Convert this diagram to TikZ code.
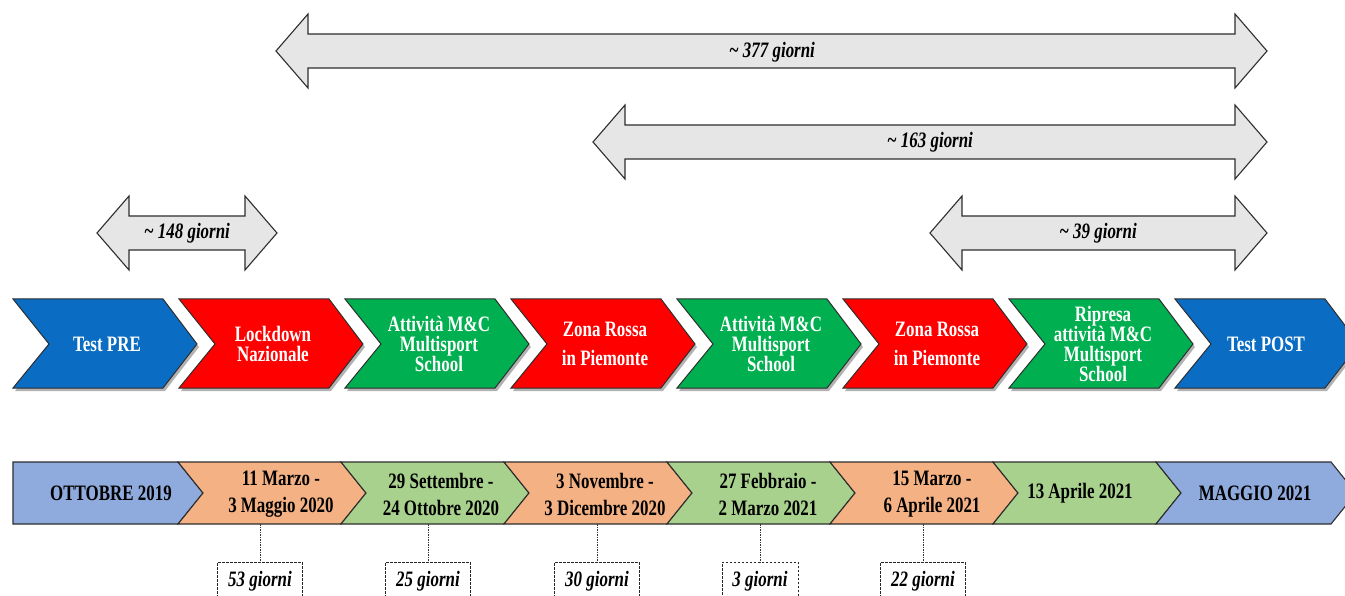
\documentclass[tikz,border=0pt]{standalone}
\usepackage{xcolor}
\usepackage{fontspec}
\setmainfont{Liberation Serif}[FakeStretch=0.77]
\usepackage{tikz}
\usetikzlibrary{positioning, calc}
\definecolor{cblue}{HTML}{0A6CC2}
\definecolor{cred}{HTML}{FF0000}
\definecolor{cgreen}{HTML}{00AF4F}
\definecolor{lblue}{HTML}{8FAADC}
\definecolor{lorange}{HTML}{F4B183}
\definecolor{lgreen}{HTML}{A9D18E}
\definecolor{agray}{HTML}{E7E6E6}
\definecolor{edge}{HTML}{2E2E2E}

\begin{document}
\begin{tikzpicture}[x=1pt, y=-1pt,
	chev/.style={draw=edge, line width=1pt, line join=miter},
	shad/.style={fill=black!30, draw=none},
	seg/.style={draw=edge, line width=1.1pt},
	darr/.style={draw=edge, fill=agray, line width=1.1pt},
	wlab/.style={text=white, font=\fontsize{22}{20}\selectfont\bfseries, align=center},
	blab/.style={text=black, font=\fontsize{22}{27}\selectfont\bfseries, align=center},
	glab/.style={font=\fontsize{22}{24}\selectfont\bfseries\itshape},
	dbox/.style={draw=black!85, dash pattern=on 2.5pt off 1.5pt, line width=0.9pt, inner xsep=10.5pt, inner ysep=9pt, anchor=north, font=\fontsize{22}{24}\selectfont\bfseries\itshape},
	dline/.style={draw=black!80, dash pattern=on 1.5pt off 1pt, line width=0.7pt}]
				\useasboundingbox (0,0) rectangle (1345,596);
				\clip (0,0) rectangle (1345,596);
				\fill[white] (0,0) rectangle (1345,596);
				
				\draw[darr] (276,51) -- ++(32,-37) -- ++(0,20) -- (1235,34) -- ++(0,-20) -- (1267,51) -- ++(-32,37) -- ++(0,-20) -- (308,68) -- ++(0,20) -- cycle;
				\node[glab] (d377) at (772,52) {\textasciitilde\ 377 giorni};
				
				\draw[darr] (593,142) -- ++(32,-37) -- ++(0,20) -- (1235,125) -- ++(0,-20) -- (1267,142) -- ++(-32,37) -- ++(0,-20) -- (625,159) -- ++(0,20) -- cycle;
				\node[glab] (d163) at (930,142) {\textasciitilde\ 163 giorni};
				
				\draw[darr] (97,233) -- ++(32,-37) -- ++(0,20) -- (245,216) -- ++(0,-20) -- (277,233) -- ++(-32,37) -- ++(0,-20) -- (129,250) -- ++(0,20) -- cycle;
				\node[glab] (d148) at (187,233) {\textasciitilde\ 148 giorni};
				
				\draw[darr] (930,233) -- ++(32,-37) -- ++(0,20) -- (1235,216) -- ++(0,-20) -- (1267,233) -- ++(-32,37) -- ++(0,-20) -- (962,250) -- ++(0,20) -- cycle;
				\node[glab] (d39) at (1098,233) {\textasciitilde\ 39 giorni};
				
				\fill[shad] (15,302) -- ++(150,0) -- ++(34,45) -- ++(-34,44) -- ++(-150,0) -- ++(36,-44) -- cycle;
				\draw[chev, fill=cblue] (13,299) -- ++(150,0) -- ++(34,45) -- ++(-34,44) -- ++(-150,0) -- ++(36,-44) -- cycle;
				\node[wlab] (pre) at (107,344) {Test PRE};
				
				\fill[shad] (181,302) -- ++(150,0) -- ++(34,45) -- ++(-34,44) -- ++(-150,0) -- ++(36,-44) -- cycle;
				\draw[chev, fill=cred] (179,299) -- ++(150,0) -- ++(34,45) -- ++(-34,44) -- ++(-150,0) -- ++(36,-44) -- cycle;
				\node[wlab] (lock) at (273,344) {Lockdown\\Nazionale};
				
				\fill[shad] (347,302) -- ++(150,0) -- ++(34,45) -- ++(-34,44) -- ++(-150,0) -- ++(36,-44) -- cycle;
				\draw[chev, fill=cgreen] (345,299) -- ++(150,0) -- ++(34,45) -- ++(-34,44) -- ++(-150,0) -- ++(36,-44) -- cycle;
				\node[wlab] (att1) at (439,344) {Attività M\&C\\Multisport\\School};
				
				\fill[shad] (513,302) -- ++(150,0) -- ++(34,45) -- ++(-34,44) -- ++(-150,0) -- ++(36,-44) -- cycle;
				\draw[chev, fill=cred] (511,299) -- ++(150,0) -- ++(34,45) -- ++(-34,44) -- ++(-150,0) -- ++(36,-44) -- cycle;
				\node[wlab] (zona1) at (605,344) {Zona Rossa\\[9pt]in Piemonte};
				
				\fill[shad] (679,302) -- ++(150,0) -- ++(34,45) -- ++(-34,44) -- ++(-150,0) -- ++(36,-44) -- cycle;
				\draw[chev, fill=cgreen] (677,299) -- ++(150,0) -- ++(34,45) -- ++(-34,44) -- ++(-150,0) -- ++(36,-44) -- cycle;
				\node[wlab] (att2) at (771,344) {Attività M\&C\\Multisport\\School};
				
				\fill[shad] (845,302) -- ++(150,0) -- ++(34,45) -- ++(-34,44) -- ++(-150,0) -- ++(36,-44) -- cycle;
				\draw[chev, fill=cred] (843,299) -- ++(150,0) -- ++(34,45) -- ++(-34,44) -- ++(-150,0) -- ++(36,-44) -- cycle;
				\node[wlab] (zona2) at (937,344) {Zona Rossa\\[9pt]in Piemonte};
				
				\fill[shad] (1011,302) -- ++(150,0) -- ++(34,45) -- ++(-34,44) -- ++(-150,0) -- ++(36,-44) -- cycle;
				\draw[chev, fill=cgreen] (1009,299) -- ++(150,0) -- ++(34,45) -- ++(-34,44) -- ++(-150,0) -- ++(36,-44) -- cycle;
				\node[wlab] (ripresa) at (1103,344) {Ripresa\\attività M\&C\\Multisport\\School};
				
				\fill[shad] (1177,302) -- ++(150,0) -- ++(34,45) -- ++(-34,44) -- ++(-150,0) -- ++(36,-44) -- cycle;
				\draw[chev, fill=cblue] (1175,299) -- ++(150,0) -- ++(34,45) -- ++(-34,44) -- ++(-150,0) -- ++(36,-44) -- cycle;
				\node[wlab] (post) at (1266,344) {Test POST};
				
				\draw[seg, fill=lblue] (13,462) -- (178,462) -- (203,493) -- (178,524) -- (13,524) -- cycle;
				\draw[seg, fill=lorange] (178,462) -- (341,462) -- (366,493) -- (341,524) -- (178,524) -- (203,493) -- cycle;
				\draw[seg, fill=lgreen] (341,462) -- (504,462) -- (529,493) -- (504,524) -- (341,524) -- (366,493) -- cycle;
				\draw[seg, fill=lorange] (504,462) -- (667,462) -- (692,493) -- (667,524) -- (504,524) -- (529,493) -- cycle;
				\draw[seg, fill=lgreen] (667,462) -- (830,462) -- (855,493) -- (830,524) -- (667,524) -- (692,493) -- cycle;
				\draw[seg, fill=lorange] (830,462) -- (993,462) -- (1018,493) -- (993,524) -- (830,524) -- (855,493) -- cycle;
				\draw[seg, fill=lgreen] (993,462) -- (1156,462) -- (1181,493) -- (1156,524) -- (993,524) -- (1018,493) -- cycle;
				\draw[seg, fill=lblue] (1156,462) -- (1331,462) -- (1356,493) -- (1331,524) -- (1156,524) -- (1181,493) -- cycle;
				
				\node[blab] (ott) at (111,493) {OTTOBRE 2019};
				\node[blab] (mar) at (281,494) {11 Marzo -\\3 Maggio 2020};
				\node[blab] (set) at (441,494) {29 Settembre -\\24 Ottobre 2020};
				\node[blab] (nov) at (605,494) {3 Novembre -\\3 Dicembre 2020};
				\node[blab] (feb) at (768,494) {27 Febbraio -\\2 Marzo 2021};
				\node[blab] (mar2) at (932,494) {15 Marzo -\\6 Aprile 2021};
				\node[blab] (apr) at (1080,493) {13 Aprile 2021};
				\node[blab] (mag) at (1255,493) {MAGGIO 2021};
				
				\coordinate (t53) at (260,524);
				\coordinate (t25) at (428,524);
				\coordinate (t30) at (597,524);
				\coordinate (t3) at (760,524);
				\coordinate (t22) at (923,524);
				\node[dbox] (g53) at (260,562) {53 giorni};
				\node[dbox] (g25) at (428,562) {25 giorni};
				\node[dbox] (g30) at (597,562) {30 giorni};
				\node[dbox] (g3) at (760,562) {3 giorni};
				\node[dbox] (g22) at (923,562) {22 giorni};
				\draw[dline] (t53) -- (g53);
				\draw[dline] (t25) -- (g25);
				\draw[dline] (t30) -- (g30);
				\draw[dline] (t3) -- (g3);
				\draw[dline] (t22) -- (g22);
\end{tikzpicture}
\end{document}
